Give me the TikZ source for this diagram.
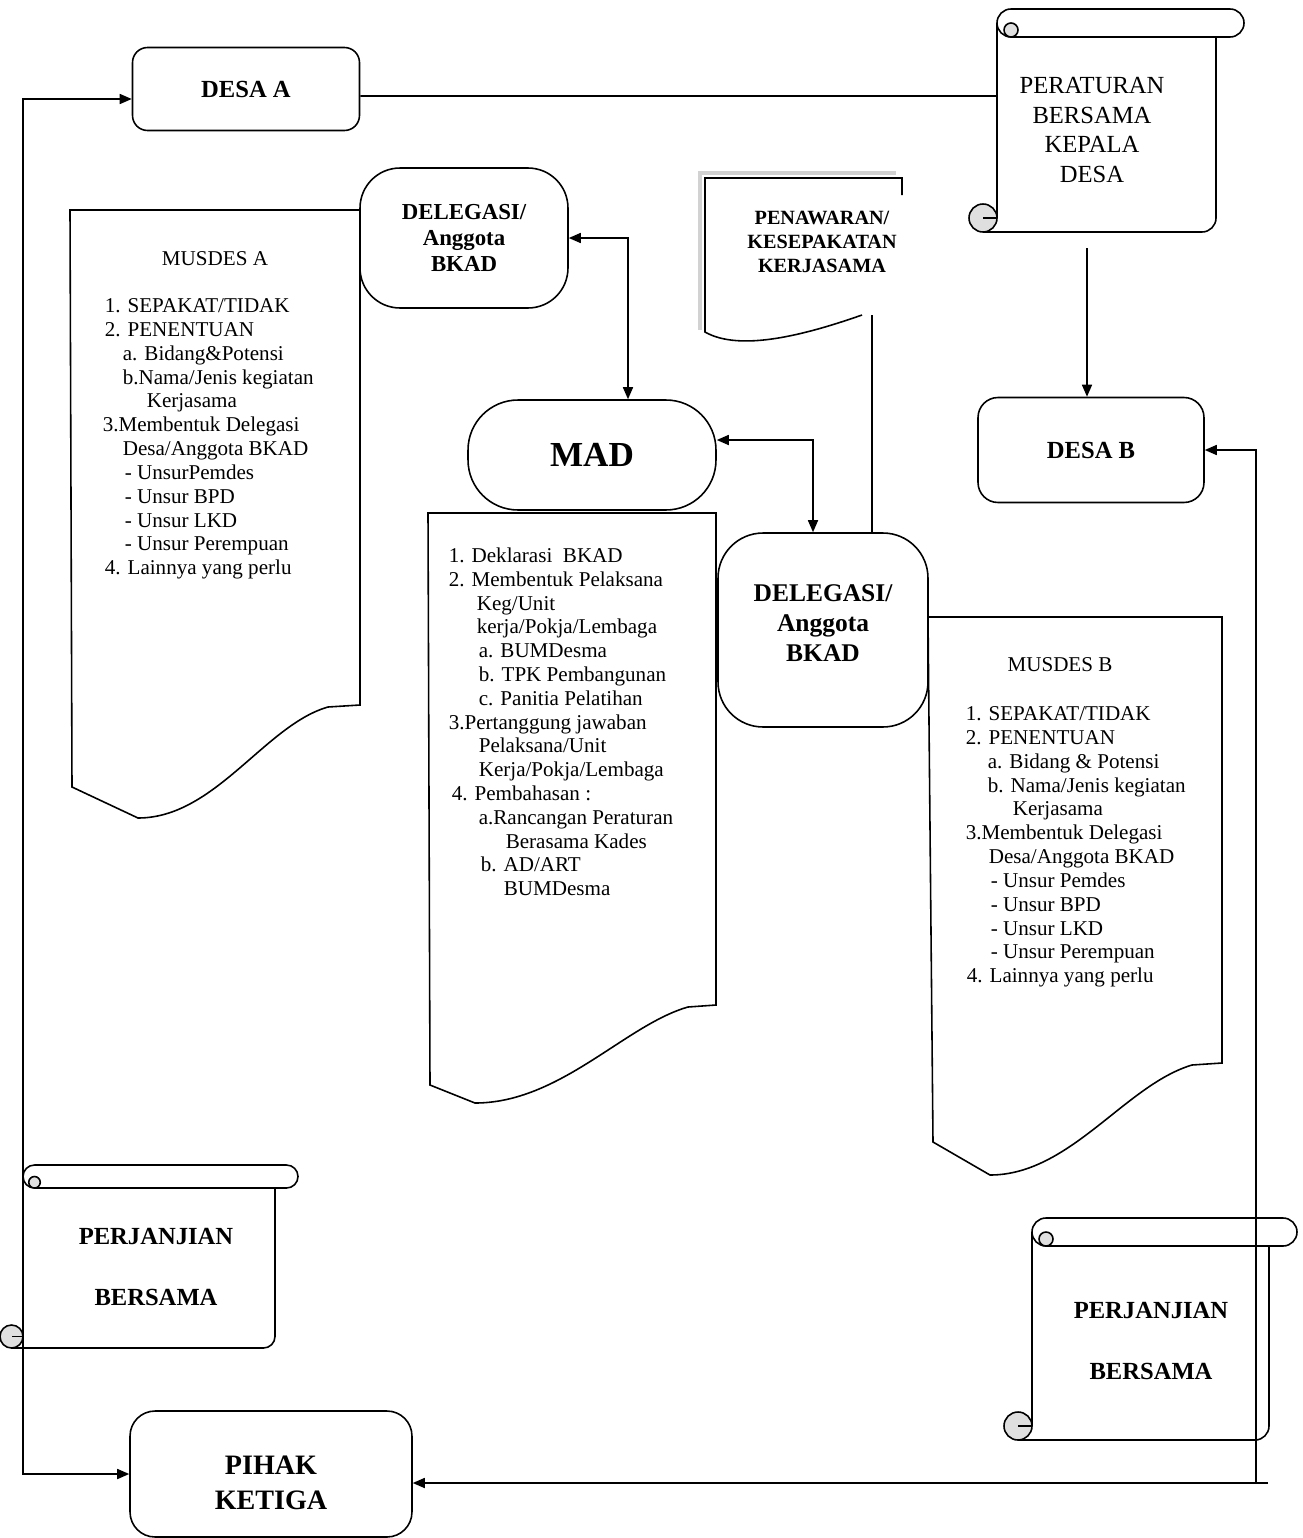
\documentclass[tikz,border=0pt]{standalone}
\usepackage{fontspec}
\setmainfont{Liberation Serif}
\usepackage{tikz}
\usetikzlibrary{arrows.meta,positioning}
\tikzset{FCbox/.style={draw,rounded corners=0.3cm,align=center,inner sep=0pt,font=\fontsize{14}{17}\selectfont\bfseries}}
\tikzset{FClist/.style={align=left,anchor=north west,inner sep=0pt,font=\fontsize{12}{13.55}\selectfont}}
\tikzset{FCtitle/.style={align=center,inner sep=0pt,font=\fontsize{12}{13.55}\selectfont}}
% scroll: left, roll top, roll right end, bottom, roll width
\newcommand{\scrollshape}[5]{%
  \pgfmathsetmacro{\scrR}{#5/2}
  \pgfmathsetmacro{\scrQ}{#5/4}
  \draw (#1+\scrR,#2+#5) arc (90:270:\scrR) -- (#3-\scrR,#2) arc (270:450:\scrR) -- cycle;
  \filldraw[fill=gray!25] (#1+\scrR,#2+1.5*\scrR) circle (\scrQ);
  \draw (#1,#2+\scrR) -- (#1,#4-\scrR);
  \draw (#3-#5,#2+#5) -- (#3-#5,#4-\scrR) arc (0:90:\scrR) -- (#1-\scrR,#4);
  \filldraw[fill=gray!25] (#1-\scrR,#4-\scrR) circle (\scrR);
  \draw (#1,#4-\scrR) -- (#1-\scrR,#4-\scrR);
}

\begin{document}
\begin{tikzpicture}[x=0.02cm,y=-0.02cm,line width=0.9pt,>={Triangle[length=0.24cm,width=0.2cm]}]
	\useasboundingbox (0,0) rectangle (1302,1538);
	%
	\node[FCbox,minimum width=4.54cm,minimum height=1.66cm] (desaA) at (246,89) {DESA A};
	\node[FCbox,minimum width=4.52cm,minimum height=2.1cm,rounded corners=0.4cm] (desaB) at (1091,450) {DESA B};
	\node[FCbox,minimum width=5.64cm,minimum height=2.52cm,rounded corners=0.5cm,font=\fontsize{16}{19.8}\selectfont\bfseries] (pihak) at (271,1474) {\rule{0pt}{21pt}PIHAK\\KETIGA};
	\node[FCbox,minimum width=4.96cm,minimum height=2.2cm,rounded corners=1cm,font=\fontsize{20}{24}\selectfont\bfseries] (mad) at (592,455) {MAD};
	\node[FCbox,minimum width=4.16cm,minimum height=2.8cm,rounded corners=0.8cm,font=\fontsize{13}{14.7}\selectfont\bfseries] (delA) at (464,238) {DELEGASI/\\Anggota\\BKAD};
	\node[FCbox,minimum width=4.2cm,minimum height=3.88cm,rounded corners=0.9cm,font=\fontsize{14.5}{17}\selectfont\bfseries] (delB) at (823,630) {DELEGASI/\\Anggota\\BKAD\rule[-8pt]{0pt}{8pt}};
	%
	% documents
	\draw (70,210) -- (360,210) -- (360,705) -- (328,707) .. controls (265,725) and (215,818) .. (138,818) -- (72,787) -- cycle;
	\draw (428,513) -- (716,513) -- (716,1005) -- (688,1007) .. controls (625,1025) and (560,1103) .. (475,1103) -- (430,1085) -- cycle;
	\draw (928,617) -- (1222,617) -- (1222,1063) -- (1192,1065) .. controls (1125,1085) and (1070,1175) .. (990,1175) -- (933,1142) -- cycle;
	\draw[gray!35,line width=2.5pt] (700,330) -- (700,173) -- (896,173);
	\draw (902,195) -- (902,178) -- (705,178) -- (705,332) .. controls (740,352) and (805,335) .. (862,315);
	%
	% scrolls
	\scrollshape{997}{9}{1244}{232}{28}
	\scrollshape{23}{1165}{298}{1348}{23}
	\scrollshape{1032}{1218}{1297}{1440}{28}
	%
	\node[FCtitle,font=\fontsize{14}{17}\selectfont] (peraturan) at (1092,130) {PERATURAN\\BERSAMA\\KEPALA\\DESA};
	\node[FCtitle,font=\fontsize{14}{34.6}\selectfont\bfseries] (perjA) at (156,1267) {PERJANJIAN\\BERSAMA};
	\node[FCtitle,font=\fontsize{14}{34.6}\selectfont\bfseries] (perjB) at (1151,1341) {PERJANJIAN\\BERSAMA};
	\node[FCtitle,font=\fontsize{11.5}{13.9}\selectfont\bfseries] (penawaran) at (822,242) {PENAWARAN/\\KESEPAKATAN\\KERJASAMA};
	%
	\node[FCtitle] (musdesA) at (215,259) {MUSDES A};
	\node[FClist] (listA) at (102,298) {\hspace*{0.04cm}1. SEPAKAT/TIDAK\\
		\hspace*{0.04cm}2. PENENTUAN\\
		\hspace*{0.4cm}a. Bidang\&Potensi\\
		\hspace*{0.4cm}b.Nama/Jenis kegiatan\\
		\hspace*{0.88cm}Kerjasama\\
		3.Membentuk Delegasi\\
		\hspace*{0.4cm}Desa/Anggota BKAD\\
		\hspace*{0.44cm}- UnsurPemdes\\
		\hspace*{0.44cm}- Unsur BPD\\
		\hspace*{0.44cm}- Unsur LKD\\
		\hspace*{0.44cm}- Unsur Perempuan\\
		\hspace*{0.04cm}4. Lainnya yang perlu};
	\node[FClist] (listMAD) at (448,547) {1. Deklarasi~ BKAD\\
		2. Membentuk Pelaksana\\
		\hspace*{0.56cm}Keg/Unit\\
		\hspace*{0.56cm}kerja/Pokja/Lembaga\\
		\hspace*{0.6cm}a. BUMDesma\\
		\hspace*{0.6cm}b. TPK Pembangunan\\
		\hspace*{0.6cm}c. Panitia Pelatihan\\
		3.Pertanggung jawaban\\
		\hspace*{0.6cm}Pelaksana/Unit\\
		\hspace*{0.6cm}Kerja/Pokja/Lembaga\\
		\hspace*{0.06cm}4. Pembahasan :\\
		\hspace*{0.6cm}a.Rancangan Peraturan\\
		\hspace*{1.14cm}Berasama Kades\\
		\hspace*{0.64cm}b. AD/ART\\
		\hspace*{1.1cm}BUMDesma};
	\node[FCtitle] (musdesB) at (1060,665) {MUSDES B};
	\node[FClist] (listB) at (965,706) {1. SEPAKAT/TIDAK\\
		2. PENENTUAN\\
		\hspace*{0.44cm}a. Bidang \& Potensi\\
		\hspace*{0.44cm}b. Nama/Jenis kegiatan\\
		\hspace*{0.94cm}Kerjasama\\
		3.Membentuk Delegasi\\
		\hspace*{0.46cm}Desa/Anggota BKAD\\
		\hspace*{0.5cm}- Unsur Pemdes\\
		\hspace*{0.5cm}- Unsur BPD\\
		\hspace*{0.5cm}- Unsur LKD\\
		\hspace*{0.5cm}- Unsur Perempuan\\
		\hspace*{0.02cm}4. Lainnya yang perlu};
	%
	% connectors
	\coordinate (lbend) at (23,1474);
	\coordinate (perW) at (997,96);
	\coordinate (perS) at (1087,248);
	\coordinate (rbend) at (1256,1483);
	\coordinate (rend) at (1268,1483);
	\coordinate (penS) at (872,315);
	\draw[<->] ([yshift=-0.2cm]desaA.west) -| (lbend) -- (pihak.west);
	\draw ([yshift=-0.14cm]desaA.east) -- (perW);
	\draw[->] (perS) -- (perS |- desaB.north);
	\draw[->] (rbend) |- (desaB.east);
	\draw[->] (rend) -- (rend -| pihak.east);
	\draw[<->] (delA.east) -| ([xshift=0.72cm]mad.north);
	\draw[<->] ([yshift=0.3cm]mad.east) -| ([xshift=-0.2cm]delB.north);
	\draw (penS) -- (penS |- delB.north);
\end{tikzpicture}
\end{document}
